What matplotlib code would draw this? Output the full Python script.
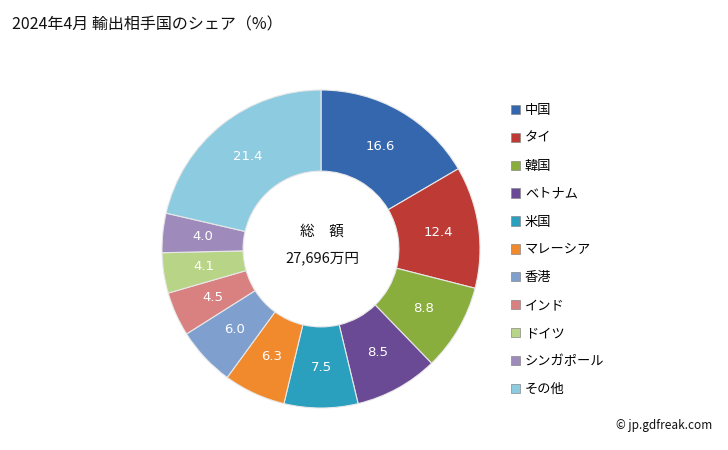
import matplotlib
matplotlib.use("Agg")
import matplotlib.pyplot as plt
from matplotlib.patches import Patch
import numpy as np

plt.rcParams['font.family'] = ['Noto Sans CJK JP', 'DejaVu Sans']

categories = ["中国", "タイ", "韓国", "ベトナム", "米国", "マレーシア", "香港", "インド", "ドイツ", "シンガポール", "その他"]
shares = [16.6, 12.4, 8.8, 8.5, 7.5, 6.3, 6.0, 4.5, 4.1, 4.0, 21.4]
colors = ["#3467AE", "#BE3A35", "#8AAE3E", "#6B4A95", "#2A9FBE", "#F08A2C",
          "#7F9FCF", "#D98080", "#B8D487", "#9E8BBB", "#8DCBE0"]
title = "2024年4月 輸出相手国のシェア（%）"
total_label = "総　額"
total_value = "27,696万円"

W, H = 728, 450
fig = plt.figure(figsize=(W / 100, H / 100), dpi=100)
ax = fig.add_axes([0, 0, 1, 1])

cx, cy, r = 321, H - 249, 159
wedges, _ = ax.pie(shares, colors=colors, startangle=90, counterclock=False,
                   radius=r, center=(cx, cy), frame=True,
                   wedgeprops=dict(width=r * 0.51, edgecolor="#E8E8E8", linewidth=0.8))
lab_r = r * 0.745
for w, v in zip(wedges, shares):
    ang = np.deg2rad((w.theta1 + w.theta2) / 2)
    ax.text(cx + lab_r * np.cos(ang), cy + lab_r * np.sin(ang), f"{v:.1f}",
            ha="center", va="center", color="white", fontsize=9.5,
            family=["DejaVu Sans"])

ax.set_xlim(0, W)
ax.set_ylim(0, H)
ax.set_aspect("equal")
ax.axis("off")

ax.text(322, H - 232, total_label, ha="center", va="center", fontsize=10.5, color="#111111")
ax.text(322, H - 258, total_value, ha="center", va="center", fontsize=10.5, color="#111111")

fig.text(12 / W, 1 - 25 / H, title, ha="left", va="center", fontsize=11.5, color="#111111")
fig.text(712 / W, 1 - 425 / H, "© jp.gdfreak.com", ha="right", va="center", fontsize=8.5, color="#111111")

handles = [Patch(facecolor=c, edgecolor="#888888", linewidth=0.5) for c in colors]
leg = fig.legend(handles, categories, loc="upper left", bbox_to_anchor=(511 / W, 1 - 104 / H),
                 frameon=False, fontsize=9.5, handlelength=0.7, handleheight=0.7,
                 handletextpad=0.35, labelspacing=1.13, borderpad=0, borderaxespad=0)

fig.savefig("out.png", dpi=100, facecolor="white")
